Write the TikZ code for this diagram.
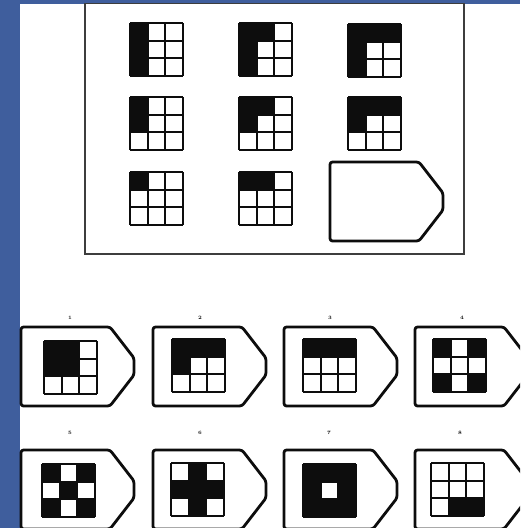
\documentclass[tikz,border=0pt]{standalone}
\usepackage{xcolor}
\usepackage{tikz}
\definecolor{slideblue}{HTML}{3F5E9D}
\definecolor{inkgray}{HTML}{0D0D0D}

% 3x3 grid: #1 = left, #2 = top, #3 = black cells as row/col
\newcommand{\patgrid}[3]{%
  \foreach \r/\c in {#3} {\fill[inkgray] ({#1+(\c-1)*17.6},{#2+(\r-1)*17.6}) rectangle ++(17.6,17.6);}
  \foreach \i in {0,...,3} {\draw[cellline] ({#1+\i*17.6},#2) -- ++(0,52.8);
    \draw[cellline] (#1,{#2+\i*17.6}) -- ++(52.8,0);}
}
% answer tag: #1 = left, #2 = top
\newcommand{\tagshape}[2]{%
  \draw[tagline] (#1,#2) -- ++(89,0) -- ++(24,31) -- ++(0,17) -- ++(-24,31) -- ++(-89,0) -- cycle;
}

\begin{document}
\begin{tikzpicture}[x=1pt,y=-1pt,
cellline/.style={draw=inkgray,line width=1.8pt},
tagline/.style={draw=inkgray,line width=2.8pt,line join=round,rounded corners=2.5pt},
framebox/.style={draw=inkgray!80,line width=1.4pt},
optlabel/.style={font=\tiny\bfseries,inner sep=0pt,text=inkgray}]
\useasboundingbox (0,0) rectangle (520,528);
\clip (0,0) rectangle (520,528);
\fill[slideblue] (0,0) rectangle (520,528);
\fill[white] (20,3.5) rectangle (520,528);
% matrix panel
\draw[framebox] (85,3.5) rectangle (464,254);
\patgrid{130}{23}{1/1,2/1,3/1}
\patgrid{239}{23}{1/1,1/2,2/1,3/1}
\patgrid{348}{24}{1/1,1/2,1/3,2/1,3/1}
\patgrid{130}{97}{1/1,2/1}
\patgrid{239}{97}{1/1,1/2,2/1}
\patgrid{348}{97}{1/1,1/2,1/3,2/1}
\patgrid{130}{172}{1/1}
\patgrid{239}{172}{1/1,1/2}
\tagshape{330}{162}
% answer options
\tagshape{21}{327}   \patgrid{44}{341}{1/1,1/2,2/1,2/2}
\tagshape{153}{327}  \patgrid{172}{339}{1/1,1/2,1/3,2/1}
\tagshape{284}{327}  \patgrid{303}{339}{1/1,1/2,1/3}
\tagshape{415}{327}  \patgrid{433}{339}{1/1,1/3,3/1,3/3}
\tagshape{21}{450}   \patgrid{42}{464}{1/1,1/3,2/2,3/1,3/3}
\tagshape{153}{450}  \patgrid{171}{463}{1/2,2/1,2/2,2/3,3/2}
\tagshape{284}{450}  \patgrid{303}{464}{1/1,1/2,1/3,2/1,2/3,3/1,3/2,3/3}
\tagshape{415}{450}  \patgrid{431}{463}{3/2,3/3}
\node[optlabel] (lab1) at (70,318) {1};
\node[optlabel] (lab2) at (200,318) {2};
\node[optlabel] (lab3) at (330,318) {3};
\node[optlabel] (lab4) at (462,318) {4};
\node[optlabel] (lab5) at (70,433) {5};
\node[optlabel] (lab6) at (200,433) {6};
\node[optlabel] (lab7) at (329,433) {7};
\node[optlabel] (lab8) at (460,433) {8};
\end{tikzpicture}
\end{document}
